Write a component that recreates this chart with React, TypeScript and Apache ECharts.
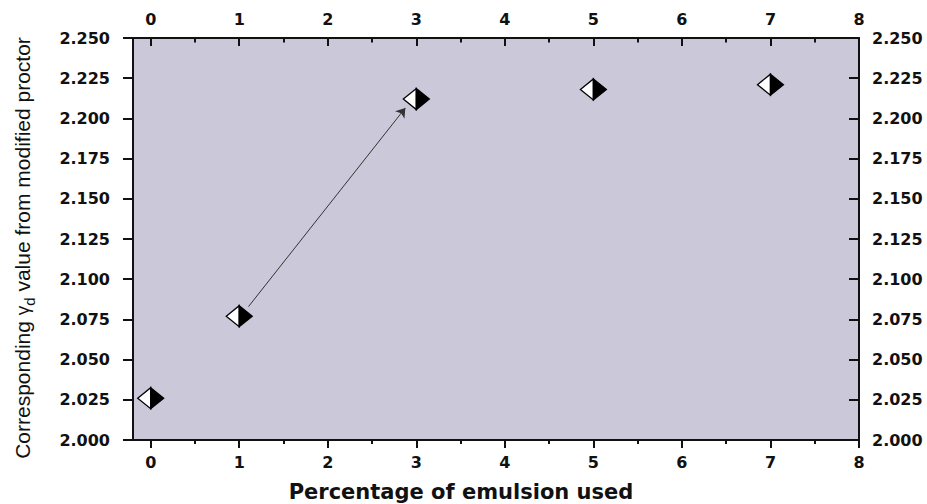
import React, { useEffect, useRef } from "react";
import * as echarts from "echarts";

const emulsionPct = [0, 1, 3, 5, 7];
const dryDensity = [2.026, 2.077, 2.212, 2.218, 2.221];
const xTickValues = [0, 1, 2, 3, 4, 5, 6, 7, 8];
const xMinorTickValues = [0.5, 1.5, 2.5, 3.5, 4.5, 5.5, 6.5, 7.5];
const arrowFrom = [1.105, 2.083];
const arrowTo = [2.876, 2.2065];

const TICK_FONT = "DejaVu Sans";

export default function App() {
  const ref = useRef<HTMLDivElement>(null);
  useEffect(() => {
    if (!ref.current) return;
    const chart = echarts.init(ref.current, null, { renderer: "svg" });
    const axisLine = { show: true, onZero: false, lineStyle: { color: "#111", width: 2 } };
    const xLabel = {
      show: true,
      customValues: xTickValues,
      fontFamily: TICK_FONT,
      fontWeight: "bold",
      fontSize: 16,
      color: "#111",
      formatter: (v: number) => String(v),
    };
    const xBase = { type: "value", min: -0.2, max: 8, splitLine: { show: false } };
    const yBase = {
      type: "value",
      min: 2.0,
      max: 2.25,
      interval: 0.025,
      splitLine: { show: false },
      axisLine,
    };
    const yLabel = {
      fontFamily: TICK_FONT,
      fontWeight: "bold",
      fontSize: 16,
      color: "#111",
      formatter: (v: number) => v.toFixed(3),
    };
    chart.setOption({
      animation: false,
      backgroundColor: "#ffffff",
      grid: {
        left: 133,
        right: 68,
        top: 38,
        bottom: 64,
        show: true,
        backgroundColor: "#cbc9d9",
        borderWidth: 0,
      },
      xAxis: [
        {
          ...xBase,
          position: "bottom",
          axisLine,
          axisTick: { show: true, customValues: xTickValues, inside: false, length: 8, lineStyle: { color: "#111", width: 2 } },
          axisLabel: { ...xLabel, margin: 14 },
        },
        {
          ...xBase,
          position: "top",
          axisLine,
          axisTick: { show: true, customValues: xTickValues, inside: true, length: 8, lineStyle: { color: "#111", width: 2 } },
          axisLabel: { ...xLabel, margin: 11 },
        },
        {
          ...xBase,
          position: "bottom",
          axisLine: { show: false, onZero: false },
          axisTick: { show: true, customValues: xMinorTickValues, inside: false, length: 4, lineStyle: { color: "#111", width: 2 } },
          axisLabel: { show: false },
        },
        {
          ...xBase,
          position: "top",
          axisLine: { show: false, onZero: false },
          axisTick: { show: true, customValues: xMinorTickValues, inside: true, length: 4.5, lineStyle: { color: "#111", width: 2 } },
          axisLabel: { show: false },
        },
      ],
      yAxis: [
        {
          ...yBase,
          position: "left",
          axisTick: { show: true, inside: false, length: 10, lineStyle: { color: "#111", width: 2 } },
          axisLabel: { ...yLabel, margin: 23 },
        },
        {
          ...yBase,
          position: "right",
          axisTick: { show: true, inside: true, length: 10, lineStyle: { color: "#111", width: 2 } },
          axisLabel: { ...yLabel, margin: 13 },
        },
      ],
      graphic: [
        {
          type: "text",
          x: 461,
          y: 492,
          style: {
            text: "Percentage of emulsion used",
            fontFamily: TICK_FONT,
            fontWeight: "bold",
            fontSize: 21,
            fill: "#111",
            textAlign: "center",
            textVerticalAlign: "middle",
          },
        },
        {
          type: "text",
          x: 22,
          y: 248,
          rotation: Math.PI / 2,
          style: {
            text: "Corresponding {g|γ}{d|d} value from modified proctor",
            fontFamily: "Liberation Sans",
            fontSize: 21,
            fill: "#111",
            textAlign: "center",
            textVerticalAlign: "middle",
            lineHeight: 30,
            rich: {
              g: { fontFamily: "Liberation Sans", fontSize: 19, fill: "#111", lineHeight: 30 },
              d: { fontFamily: "Liberation Sans", fontSize: 15, fill: "#111", lineHeight: 15, verticalAlign: "bottom" },
            },
          },
        },
      ],
      series: [
        {
          type: "lines",
          coordinateSystem: "cartesian2d",
          xAxisIndex: 0,
          yAxisIndex: 0,
          symbol: ["none", "arrow"],
          symbolSize: 9,
          lineStyle: { color: "#333", width: 1, opacity: 1 },
          data: [{ coords: [arrowFrom, arrowTo] }],
          z: 3,
        },
        {
          type: "custom",
          xAxisIndex: 0,
          yAxisIndex: 0,
          clip: false,
          z: 4,
          data: emulsionPct.map((x, i) => [x, dryDensity[i]]),
          encode: { x: 0, y: 1 },
          renderItem: (_params: any, api: any) => {
            const p = api.coord([api.value(0), api.value(1)]);
            const hw = 13;
            const hh = 10.5;
            return {
              type: "group",
              children: [
                {
                  type: "polygon",
                  shape: { points: [[p[0] - hw, p[1]], [p[0], p[1] - hh], [p[0], p[1] + hh]] },
                  style: { fill: "#ffffff", stroke: "#000", lineWidth: 1.3 },
                },
                {
                  type: "polygon",
                  shape: { points: [[p[0], p[1] - hh], [p[0] + hw, p[1]], [p[0], p[1] + hh]] },
                  style: { fill: "#000", stroke: "#000", lineWidth: 1.3 },
                },
              ],
            };
          },
        },
      ],
    });
    return () => chart.dispose();
  }, []);
  return (
    <div
      ref={ref}
      style={{ position: "fixed", left: 0, top: 0, width: 927, height: 504 }}
    />
  );
}
